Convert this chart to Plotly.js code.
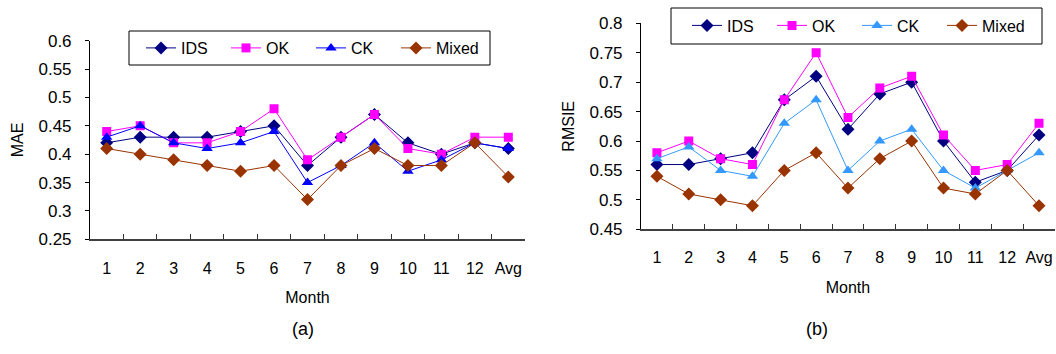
<!DOCTYPE html>
<html><head><meta charset="utf-8">
<script src="https://cdn.plot.ly/plotly-3.0.1.min.js"></script>
<style>html,body{margin:0;padding:0;background:#fff}#c{width:1056px;height:354px}</style>
</head><body><div id="c"></div>
<script>
const months = ['1','2','3','4','5','6','7','8','9','10','11','12','Avg'];
const maeIDS   = [0.42,0.43,0.43,0.43,0.44,0.45,0.38,0.43,0.47,0.42,0.40,0.42,0.41];
const maeOK    = [0.44,0.45,0.42,0.42,0.44,0.48,0.39,0.43,0.47,0.41,0.40,0.43,0.43];
const maeCK    = [0.43,0.45,0.42,0.41,0.42,0.44,0.35,0.38,0.42,0.37,0.39,0.42,0.41];
const maeMixed = [0.41,0.40,0.39,0.38,0.37,0.38,0.32,0.38,0.41,0.38,0.38,0.42,0.36];
const rmsIDS   = [0.56,0.56,0.57,0.58,0.67,0.71,0.62,0.68,0.70,0.60,0.53,0.55,0.61];
const rmsOK    = [0.58,0.60,0.57,0.56,0.67,0.75,0.64,0.69,0.71,0.61,0.55,0.56,0.63];
const rmsCK    = [0.57,0.59,0.55,0.54,0.63,0.67,0.55,0.60,0.62,0.55,0.52,0.55,0.58];
const rmsMixed = [0.54,0.51,0.50,0.49,0.55,0.58,0.52,0.57,0.60,0.52,0.51,0.55,0.49];
const maeTicks = [0.25,0.3,0.35,0.4,0.45,0.5,0.55,0.6];
const rmsTicks = [0.45,0.5,0.55,0.6,0.65,0.7,0.75,0.8];

const FONT = 'Arial, "Liberation Sans", sans-serif';
function tr(name, x, y, color, symbol, size, xa, ya, leg){
  return {type:'scatter', mode:'lines+markers', name:name, x:x, y:y, xaxis:xa, yaxis:ya, legend:leg,
    line:{color:color, width:1}, marker:{color:color, symbol:symbol, size:size}};
}
const data = [
  tr('IDS', months, maeIDS, '#000080', 'diamond', 10, 'x', 'y', 'legend'),
  tr('OK', months, maeOK, '#FF00FF', 'square', 9, 'x', 'y', 'legend'),
  tr('CK', months, maeCK, '#0000FF', 'triangle-up', 10, 'x', 'y', 'legend'),
  tr('Mixed', months, maeMixed, '#993300', 'diamond', 10, 'x', 'y', 'legend'),
  tr('IDS', months, rmsIDS, '#000080', 'diamond', 10, 'x2', 'y2', 'legend2'),
  tr('OK', months, rmsOK, '#FF00FF', 'square', 9, 'x2', 'y2', 'legend2'),
  tr('CK', months, rmsCK, '#3399FF', 'triangle-up', 10, 'x2', 'y2', 'legend2'),
  tr('Mixed', months, rmsMixed, '#993300', 'diamond', 10, 'x2', 'y2', 'legend2')
];
function xax(dom, anchor){
  return {domain:dom, anchor:anchor, type:'category', range:[-0.5,12.5], tickson:'boundaries',
    ticks:'inside', ticklen:5, tickcolor:'#333', showline:true, linecolor:'#404040', linewidth:2,
    showgrid:false, zeroline:false, tickangle:0, tickfont:{size:16, color:'#000'}, ticklabelstandoff:13,
    title:{text:'Month', font:{size:16, color:'#000'}, standoff:16}};
}
function yax(dom, anchor, ticks, title){
  return {domain:dom, anchor:anchor, range:[ticks[0], ticks[ticks.length-1]], tickvals:ticks,
    ticktext:ticks.map(v=>String(v)), ticks:'outside', ticklen:4, tickcolor:'#000',
    showline:true, linecolor:'#000', linewidth:1, showgrid:false, zeroline:false,
    tickfont:{size:17, color:'#000'}, ticklabelstandoff:10,
    title:{text:title, font:{size:16, color:'#000'}, standoff:10}};
}
const legStyle = {orientation:'h', borderwidth:0, bgcolor:'rgba(0,0,0,0)',
  font:{size:16, color:'#000'}, xanchor:'left', yanchor:'middle', itemwidth:30, entrywidth:40, tracegroupgap:0};
function box(x0,x1,y0,y1){
  return {type:'rect', xref:'paper', yref:'paper', x0:x0/1056, x1:x1/1056, y0:(354-y1)/354, y1:(354-y0)/354,
    line:{color:'#000', width:1}, fillcolor:'#fff', layer:'below'};
}
const layout = {
  width:1056, height:354, margin:{l:0,r:0,t:0,b:0}, paper_bgcolor:'#fff', plot_bgcolor:'rgba(0,0,0,0)',
  font:{family:FONT, color:'#000'}, showlegend:true,
  xaxis: xax([0.0852,0.4972],'y'),
  yaxis: yax([0.324,0.885],'x', maeTicks, 'MAE'),
  xaxis2: xax([0.607,0.999],'y2'),
  yaxis2: yax([0.3523,0.9342],'x2', rmsTicks, 'RMSIE'),
  legend: Object.assign({x:141/1056, y:(354-48)/354}, legStyle),
  legend2: Object.assign({x:687/1056, y:(354-25.5)/354}, legStyle),
  shapes:[box(129,490,31,65), box(671,1042,8,44)],
  annotations:[
    {text:'(a)', x:290/1056, y:(354-341)/354, xref:'paper', yref:'paper', showarrow:false, font:{size:18}},
    {text:'(b)', x:830/1056, y:(354-341)/354, xref:'paper', yref:'paper', showarrow:false, font:{size:18}}
  ]
};
Plotly.newPlot('c', data, layout, {displayModeBar:false, staticPlot:true});
</script></body></html>
